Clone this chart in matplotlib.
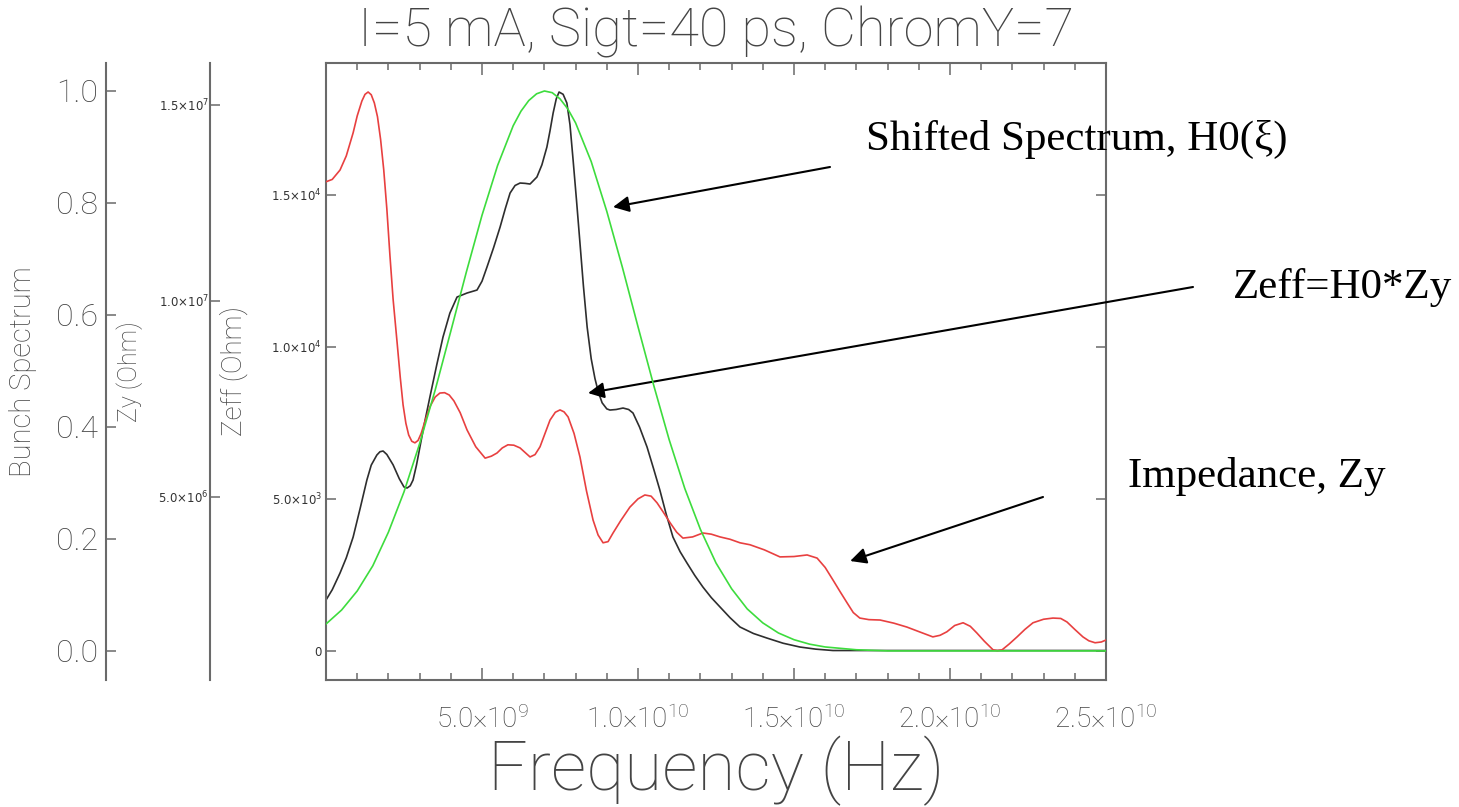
import numpy as np
import matplotlib
matplotlib.use('Agg')
import matplotlib.pyplot as plt
from matplotlib.ticker import FixedLocator, MultipleLocator, FuncFormatter

plt.rcParams['mathtext.default'] = 'regular'

# ---------------------------------------------------------------------------
# 数据 (频率单位 GHz)
# ---------------------------------------------------------------------------
freq_bunch = [0.0, 0.5, 1.0, 1.5, 2.0, 2.5, 3.0, 3.5, 4.0, 4.5, 5.0, 5.5, 6.0, 6.25,
              6.5, 6.75, 7.0, 7.25, 7.5, 7.75, 8.0, 8.5, 9.0, 9.5, 10.0, 10.5, 11.0,
              11.5, 12.0, 12.5, 13.0, 13.5, 14.0, 14.5, 15.0, 15.5, 16.0, 17.0, 18.0, 25.0]
bunch = [0.048, 0.073, 0.107, 0.152, 0.212, 0.284, 0.370, 0.466, 0.571, 0.677,
         0.778, 0.867, 0.938, 0.964, 0.983, 0.995, 1.000, 0.997, 0.986, 0.968,
         0.943, 0.874, 0.785, 0.685, 0.579, 0.475, 0.377, 0.290, 0.217, 0.157,
         0.111, 0.075, 0.050, 0.032, 0.020, 0.012, 0.007, 0.002, 0.0, 0.0]

freq_zy = [0.00, 0.20, 0.45, 0.65, 0.87, 1.00, 1.15, 1.25, 1.35, 1.45, 1.55, 1.65,
           1.75, 1.85, 1.95, 2.05, 2.15, 2.28, 2.38, 2.47, 2.56, 2.65, 2.75, 2.85,
           2.95, 3.05, 3.18, 3.33, 3.50, 3.65, 3.80, 3.95, 4.10, 4.30, 4.52, 4.80,
           5.10, 5.30, 5.48, 5.65, 5.83, 6.02, 6.22, 6.40, 6.54, 6.70, 6.86, 7.02,
           7.18, 7.35, 7.50, 7.63, 7.76, 7.95, 8.14, 8.35, 8.56, 8.72, 8.88, 9.04,
           9.20, 9.45, 9.74, 10.00, 10.22, 10.42, 10.61, 10.82, 11.03, 11.24, 11.44,
           11.75, 12.08, 12.35, 12.63, 12.95, 13.27, 13.59, 14.05, 14.55, 15.00, 15.42,
           15.74, 16.00, 16.25, 16.48, 16.70, 16.90, 17.11, 17.40, 17.76, 18.20, 18.62,
           19.05, 19.45, 19.68, 19.90, 20.15, 20.42, 20.65, 20.86, 21.10, 21.38, 21.52,
           21.67, 21.90, 22.15, 22.40, 22.66, 23.00, 23.30, 23.55, 23.75, 24.00, 24.26,
           24.45, 24.65, 24.85, 25.00]
zy = [13.04, 13.10, 13.34, 13.70, 14.29, 14.72, 15.10, 15.27, 15.33, 15.26, 15.05, 14.70,
      14.12, 13.35, 12.35, 11.15, 10.05, 8.93, 8.05, 7.35, 6.88, 6.58, 6.42, 6.38,
      6.44, 6.62, 6.95, 7.30, 7.55, 7.65, 7.66, 7.60, 7.45, 7.15, 6.71, 6.28,
      5.99, 6.04, 6.12, 6.25, 6.33, 6.32, 6.25, 6.12, 6.02, 6.08, 6.28, 6.62,
      6.96, 7.16, 7.22, 7.17, 7.04, 6.62, 6.02, 5.15, 4.41, 4.03, 3.83, 3.86,
      4.08, 4.40, 4.74, 4.95, 5.05, 5.02, 4.85, 4.60, 4.34, 4.10, 3.95,
      3.98, 4.08, 4.05, 3.98, 3.92, 3.83, 3.78, 3.65, 3.47, 3.48, 3.52,
      3.44, 3.20, 2.88, 2.58, 2.30, 2.05, 1.91, 1.87, 1.86, 1.78, 1.68,
      1.55, 1.43, 1.47, 1.56, 1.72, 1.79, 1.70, 1.53, 1.32, 1.10, 1.08,
      1.10, 1.25, 1.43, 1.62, 1.79, 1.88, 1.91, 1.90, 1.81, 1.62, 1.43,
      1.33, 1.28, 1.30, 1.35]  # 单位 1e6 Ohm

freq_zeff = [0.00, 0.20, 0.45, 0.65, 0.87, 1.10, 1.31, 1.45, 1.63, 1.73, 1.83, 1.95,
             2.15, 2.35, 2.50, 2.60, 2.70, 2.79, 2.90, 3.01, 3.17, 3.33, 3.55, 3.75,
             3.97, 4.20, 4.52, 4.84, 5.00, 5.16, 5.37, 5.58, 5.75, 5.90, 6.06, 6.22,
             6.38, 6.54, 6.76, 6.92, 7.08, 7.18, 7.28, 7.38, 7.47, 7.60, 7.72, 7.82,
             7.92, 8.03, 8.14, 8.25, 8.37, 8.50, 8.62, 8.73, 8.85, 9.00, 9.10, 9.30,
             9.52, 9.70, 9.84, 10.05, 10.29, 10.50, 10.70, 10.90, 11.12, 11.35, 11.57,
             11.82, 12.08, 12.35, 12.63, 12.95, 13.27, 13.70, 14.13, 14.65, 15.19, 15.70,
             16.25, 25.0]
zeff = [1661, 2000, 2550, 3050, 3734, 4700, 5609, 6100, 6432, 6540, 6564, 6450,
        6110, 5650, 5380, 5346, 5420, 5609, 6100, 6695, 7550, 8340, 9400, 10314,
        11100, 11630, 11762, 11860, 12150, 12617, 13250, 13933, 14550, 15052, 15300, 15381,
        15370, 15348, 15578, 15980, 16565, 17100, 17684, 18150, 18375, 18300, 18013, 17300,
        16137, 14800, 13407, 12000, 10643, 9600, 8950, 8500, 8150, 7950, 7912, 7930,
        7978, 7930, 7814, 7350, 6695, 5980, 5280, 4500, 3734, 3250, 2879,
        2470, 2089, 1740, 1431, 1080, 773, 560, 411, 240, 115, 45,
        0, 0]

x_ticks = [5e9, 1e10, 1.5e10, 2e10, 2.5e10]
zeff_ticks = [0, 5e3, 1e4, 1.5e4]
zy_ticks = [5e6, 1e7, 1.5e7]
bunch_ticks = [0.0, 0.2, 0.4, 0.6, 0.8, 1.0]

W, H = 1459, 807
AX_COLOR = '#6a6a6a'
TXT_COLOR = '#444444'
LIGHT = dict(family='Roboto', weight='light')


def sci_fmt(v, pos=None):
    if v == 0:
        return '0'
    e = int(np.floor(np.log10(abs(v)) + 1e-9))
    return f'{v / 10**e:.1f}×10$^{{{e}}}$'


fig = plt.figure(figsize=(W / 100, H / 100), dpi=100)
ax = fig.add_axes([326 / W, 1 - 680 / H, 780 / W, 617 / H])
ax_zy = ax.twinx()
ax_b = ax.twinx()

# 曲线
ax.plot(np.array(freq_zeff) * 1e9, zeff, color='#2e2e2e', lw=1.2)
ax_zy.plot(np.array(freq_zy) * 1e9, np.array(zy) * 1e6, color='#e84040', lw=1.2)
ax_b.plot(np.array(freq_bunch) * 1e9, bunch, color='#3ddc3d', lw=1.2)

ax.set_xlim(0, 2.5e10)
ax.set_ylim(-970, 19330)
ax_zy.set_ylim(3.3e5, 1.607e7)
ax_b.set_ylim(-0.052, 1.05)

# 主坐标框
for s in ax.spines.values():
    s.set_color(AX_COLOR)
    s.set_linewidth(1.5)
ax.xaxis.set_major_locator(FixedLocator(x_ticks))
ax.xaxis.set_minor_locator(MultipleLocator(1e9))
ax.xaxis.set_major_formatter(FuncFormatter(lambda v, p: '' if v == 0 else sci_fmt(v)))
ax.yaxis.set_major_locator(FixedLocator(zeff_ticks))
ax.yaxis.set_major_formatter(FuncFormatter(sci_fmt))
ax.tick_params(axis='both', which='both', direction='in', top=True, right=True,
               color=AX_COLOR, width=1.1)
ax.tick_params(axis='x', which='major', length=8.5, pad=18, labelcolor=TXT_COLOR)
ax.tick_params(axis='x', which='minor', length=5)
ax.tick_params(axis='y', which='major', length=7, pad=3, labelsize=8.5, labelcolor='#333333')
for lab in ax.get_xticklabels():
    lab.set_fontproperties(dict(LIGHT, size=20))
ax.set_xlabel('Frequency (Hz)', fontsize=50, color=TXT_COLOR, labelpad=2, **LIGHT)
ax.set_ylabel('Zeff (Ohm)', fontsize=20, color=TXT_COLOR, **LIGHT)
ax.yaxis.set_label_coords(-0.1, 0.5)
ax.set_title('I=5 mA, Sigt=40 ps, ChromY=7', fontsize=39, color=TXT_COLOR, pad=12, **LIGHT)

# 左侧附加坐标轴
for a, xpos in [(ax_zy, (210 - 326) / 780), (ax_b, (106 - 326) / 780)]:
    for k in ['right', 'top', 'bottom']:
        a.spines[k].set_visible(False)
    a.spines['left'].set_visible(True)
    a.spines['left'].set_position(('axes', xpos))
    a.spines['left'].set_color(AX_COLOR)
    a.spines['left'].set_linewidth(1.5)
    a.yaxis.tick_left()
    a.yaxis.set_label_position('left')
    a.patch.set_visible(False)
    a.tick_params(axis='y', direction='in', length=7, width=1.1, color=AX_COLOR)

ax_zy.yaxis.set_major_locator(FixedLocator(zy_ticks))
ax_zy.yaxis.set_major_formatter(FuncFormatter(sci_fmt))
ax_zy.tick_params(axis='y', pad=1, labelsize=8.5, labelcolor='#333333')
ax_zy.set_ylabel('Zy (Ohm)', fontsize=18, color=TXT_COLOR, **LIGHT)
ax_zy.yaxis.set_label_coords((143 - 326) / 780, 0.5)

ax_b.yaxis.set_major_locator(FixedLocator(bunch_ticks))
ax_b.yaxis.set_major_formatter(FuncFormatter(lambda v, p: f'{v:.1f}'))
ax_b.tick_params(axis='y', pad=6, labelcolor=TXT_COLOR)
for lab in ax_b.get_yticklabels():
    lab.set_fontproperties(dict(LIGHT, size=23))
ax_b.set_ylabel('Bunch Spectrum', fontsize=21, color=TXT_COLOR, **LIGHT)
ax_b.yaxis.set_label_coords((37 - 326) / 780, 0.5)

# 注释文字与箭头
notes = [('Shifted Spectrum, H0(ξ)', 866, 150, (9.2e9, 14590), (830, 167)),
         ('Zeff=H0*Zy', 1233, 298, (8.4e9, 8470), (1193, 287)),
         ('Impedance, Zy', 1128, 487, (16.8e9, 2945), (1043, 497))]
for txt, tx, ty, tip, start in notes:
    fig.text(tx / W, 1 - ty / H, txt, fontsize=31, family='Liberation Serif',
             ha='left', va='baseline', color='black')
    ax.annotate('', xy=tip, xycoords='data',
                xytext=(start[0] / W, 1 - start[1] / H), textcoords='figure fraction',
                arrowprops=dict(arrowstyle='-|>', color='black', lw=1.5,
                                mutation_scale=24, shrinkA=0, shrinkB=0),
                annotation_clip=False)

fig.savefig('out.png', dpi=100)
